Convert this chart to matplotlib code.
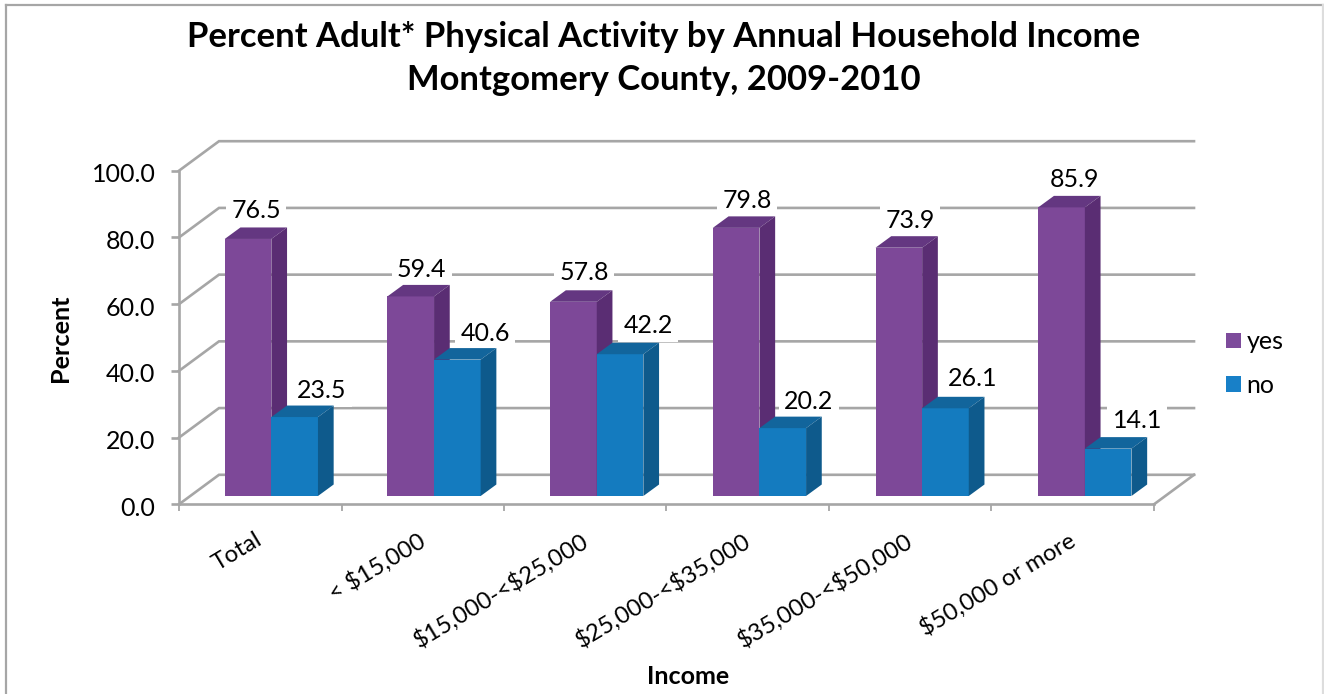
# Percent adult physical activity by income, drawn as an Excel style 3D column chart
import matplotlib
matplotlib.use("Agg")
import numpy as np
import matplotlib.pyplot as plt
from matplotlib.lines import Line2D
from matplotlib.patches import Patch, Polygon
from matplotlib.transforms import ScaledTranslation

plt.rcParams['font.family'] = ['Lato', 'DejaVu Sans']

categories = ['Total', r'< \$15,000', r'\$15,000-<\$25,000', r'\$25,000-<\$35,000',
              r'\$35,000-<\$50,000', r'\$50,000 or more']
yes_values = [76.5, 59.4, 57.8, 79.8, 73.9, 85.9]
no_values = [23.5, 40.6, 42.2, 20.2, 26.1, 14.1]
y_ticks = [0, 20, 40, 60, 80, 100]

# label offsets from the bar top, in pixels
yes_label_dx = [8, 11, 11, 11, 11, 13]
yes_label_dy = [28, 27, 29, 27, 27, 28]
no_label_dx = [27, 28, 28, 26, 27, 29]
no_label_dy = [27, 26, 29, 27, 30, 28]

W, H = 1324, 694
GRAY = '#a6a6a6'
LW = 1.9
PURPLE = ('#7d4898', '#643781', '#5a2d73')
BLUE = ('#147bbf', '#12659c', '#0e5a8c')
BAR_W = 0.2865

fig = plt.figure(figsize=(W / 100, H / 100), dpi=100)


def px_axes(left, right, top, bottom):
    return fig.add_axes([left / W, 1 - bottom / H, (right - left) / W, (bottom - top) / H])


# outer chart border, the bottom edge runs off the image
for xs, ys, col in [((6, 6), (694, 5), GRAY), ((6, 1323), (5, 5), GRAY), ((1323, 1323), (5, 694), '#dddddd')]:
    fig.add_artist(Line2D([x / W for x in xs], [1 - y / H for y in ys],
                          transform=fig.transFigure, color=col, lw=1.6))

# front plane of the chart: axis lines, ticks and labels
ax = px_axes(179, 1154, 170.7, 504.3)
ax.set_xlim(0, 6)
ax.set_ylim(0, 100)
ax.patch.set_visible(False)
for s in ['top', 'right']:
    ax.spines[s].set_visible(False)
for s in ['left', 'bottom']:
    ax.spines[s].set_color(GRAY)
    ax.spines[s].set_linewidth(LW)

ax.set_yticks(y_ticks)
ax.set_yticklabels(['%.1f' % v for v in y_ticks], fontsize=18)
ax.tick_params(axis='y', length=5.5, width=LW, color=GRAY, pad=11.5)
for lab in ax.get_yticklabels():
    lab.set_transform(lab.get_transform() + ScaledTranslation(0, -2 / 100, fig.dpi_scale_trans))
ax.set_xticks(np.arange(7))
ax.set_xticklabels([])
ax.tick_params(axis='x', which='major', length=5, width=1.3, color=GRAY)
ax.set_xticks(np.arange(6) + 0.5, minor=True)
ax.set_xticklabels(categories, minor=True, fontsize=17.2, rotation=31, ha='right',
                   va='top', rotation_mode='anchor')
ax.tick_params(axis='x', which='minor', length=0, pad=18)
for lab in ax.get_xticklabels(minor=True):
    lab.set_transform(lab.get_transform() + ScaledTranslation(-5 / 100, 0, fig.dpi_scale_trans))

# back wall grid and floor, pushed back from the front plane
wall_dx = 40 / (975 / 6)
wall_dy = 29.5 / (333.6 / 100)
for v in y_ticks:
    ax.plot([0, wall_dx, 6 + wall_dx], [v, v + wall_dy, v + wall_dy], color=GRAY, lw=LW,
            clip_on=False, zorder=1, solid_joinstyle='miter')
ax.plot([6, 6 + wall_dx], [0, wall_dy], color=GRAY, lw=LW, clip_on=False, zorder=1)

# bars sit on their own plane, a little behind the axis lines
bar_ax = px_axes(190, 1166.2, 160, 496)
bar_ax.set_xlim(0, 6)
bar_ax.set_ylim(0, 100)
bar_ax.axis('off')
bar_dx = 15.7 / (976.2 / 6)
bar_dy = 11.5 / (336 / 100)


def draw_bar(x, v, colors):
    bar_ax.bar(x, v, BAR_W, align='edge', color=colors[0], zorder=3, clip_on=False, linewidth=0)
    top = [(x, v), (x + bar_dx, v + bar_dy), (x + BAR_W + bar_dx, v + bar_dy), (x + BAR_W, v)]
    side = [(x + BAR_W, 0), (x + BAR_W + bar_dx, bar_dy), (x + BAR_W + bar_dx, v + bar_dy), (x + BAR_W, v)]
    bar_ax.add_patch(Polygon(top, closed=True, fc=colors[1], ec='none', zorder=3, clip_on=False))
    bar_ax.add_patch(Polygon(side, closed=True, fc=colors[2], ec='none', zorder=3, clip_on=False))


def draw_label(x, v, dx, dy):
    bar_ax.annotate('%.1f' % v, (x + BAR_W / 2, v), xytext=(dx * 0.72, dy * 0.72),
                    textcoords='offset points', ha='center', va='center', fontsize=18,
                    zorder=2, bbox=dict(fc='white', ec='none', pad=3.8))


for i in range(len(categories)):
    x_yes = i + 0.5 - BAR_W
    x_no = i + 0.5
    draw_label(x_yes, yes_values[i], yes_label_dx[i], yes_label_dy[i])
    draw_label(x_no, no_values[i], no_label_dx[i], no_label_dy[i])
    draw_bar(x_yes, yes_values[i], PURPLE)
    draw_bar(x_no, no_values[i], BLUE)

# titles and axis names
fig.text(664 / W, 1 - 58.5 / H, 'Percent Adult* Physical Activity by Annual Household Income\nMontgomery County, 2009-2010',
         ha='center', va='center', fontsize=24.9, fontweight='bold', linespacing=1.43)
fig.text(61 / W, 1 - 338 / H, 'Percent', rotation=90, ha='center', va='center', fontsize=18.2, fontweight='bold')
fig.text(688 / W, 1 - 677 / H, 'Income', ha='center', va='center', fontsize=18, fontweight='bold')

# legend
handles = [Patch(fc='#7d4b9b', ec='none'), Patch(fc='#1880c8', ec='none')]
fig.legend(handles, ['yes', 'no'], loc='center left', bbox_to_anchor=(1203 / W, 1 - 363.5 / H),
           frameon=False, fontsize=18, handlelength=0.6, handleheight=0.6, handletextpad=0.25,
           labelspacing=0.82)

fig.savefig('out.png', dpi=100)
